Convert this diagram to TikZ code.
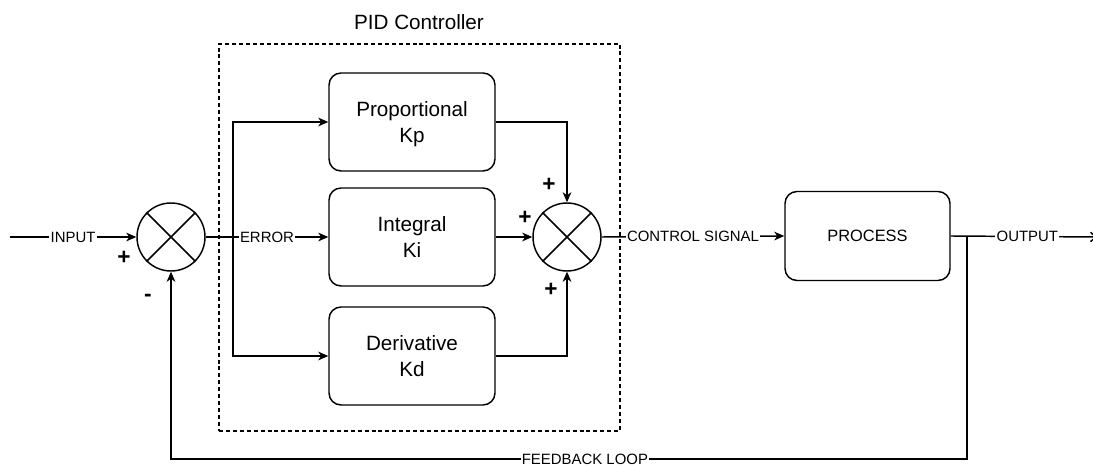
\documentclass[tikz,border=0pt]{standalone}
\usepackage{fontspec}
\setmainfont{Liberation Sans}
\usetikzlibrary{arrows.meta}
\begin{document}
\begin{tikzpicture}[x=0.75pt,y=-0.75pt,
  wire/.style={line width=1.1pt, draw=black},
  arr/.style={wire, -{Stealth[length=7.5pt,width=6.5pt,inset=2.2pt]}},
  openarr/.style={wire, -{Straight Barb[length=4pt,width=7pt]}},
  block/.style={draw, line width=1.1pt, rounded corners=9pt, minimum width=124.5pt,
    minimum height=73.5pt, align=center, inner sep=0pt, text depth=0pt,
    font=\fontsize{15.5}{19}\selectfont},
  summer/.style={draw, circle, line width=1.1pt, minimum size=51pt, inner sep=0pt},
  lbl/.style={fill=white, inner sep=1pt, font=\fontsize{11.2}{13}\selectfont},
  sign/.style={inner sep=0pt, font=\bfseries\fontsize{17}{18}\selectfont},
  group/.style={draw, line width=0.9pt, dash pattern=on 3pt off 2.2pt, inner sep=0pt}]
\useasboundingbox (0,0) rectangle (1093,466);

% controller frame and title
\node[group, minimum width=300.75pt, minimum height=290.25pt] (pid) at (419.5,237.5) {};
\node[font=\fontsize{15.5}{18}\selectfont] (title) at (419,22) {PID Controller};

% summing junctions
\node[summer] (s1) at (171,237) {};
\node[summer] (s2) at (567,237) {};
\draw[wire] (s1.45) -- (s1.225) (s1.135) -- (s1.315);
\draw[wire] (s2.45) -- (s2.225) (s2.135) -- (s2.315);

% controller terms and plant
\node[block] (prop) at (412,122) {Proportional\\Kp};
\node[block] (int) at (412,237) {Integral\\Ki};
\node[block] (der) at (412,356) {Derivative\\Kd};
\node[block, minimum width=123.75pt, minimum height=66.75pt,
  font=\fontsize{12.3}{15}\selectfont] (proc) at (867.5,236) {PROCESS};

% signal path
\coordinate (in) at (10,237);
\coordinate (split) at (233,237);
\coordinate (out) at (1097,237);
\coordinate (tap) at (967,237);
\coordinate (fbR) at (967,459);
\coordinate (fbL) at (171,459);

\draw[arr] (in) -- node[lbl] {INPUT} (s1.west);
\draw[arr] (s1.east) -- node[lbl] {ERROR} (int.west);
\draw[arr] (split) |- (prop.west);
\draw[arr] (split) |- (der.west);
\draw[arr] (prop.east) -| (s2.north);
\draw[arr] (int.east) -- (s2.west);
\draw[arr] (der.east) -| (s2.south);
\draw[arr] (s2.east) -- node[lbl] {CONTROL SIGNAL} (proc.west);
\draw[openarr] (proc.east) -- node[lbl, pos=0.524] {OUTPUT} (out);
\draw[arr] (tap) -- (fbR) -- node[lbl, pos=0.48] {FEEDBACK LOOP} (fbL) -- (s1.south);

% signs
\node[sign] (p1) at (124,258) {+};
\node[sign] (m1) at (148,298) {-};
\node[sign] (p2) at (549,185) {+};
\node[sign] (p3) at (525,218) {+};
\node[sign] (p4) at (551,290) {+};
\end{tikzpicture}
\end{document}
